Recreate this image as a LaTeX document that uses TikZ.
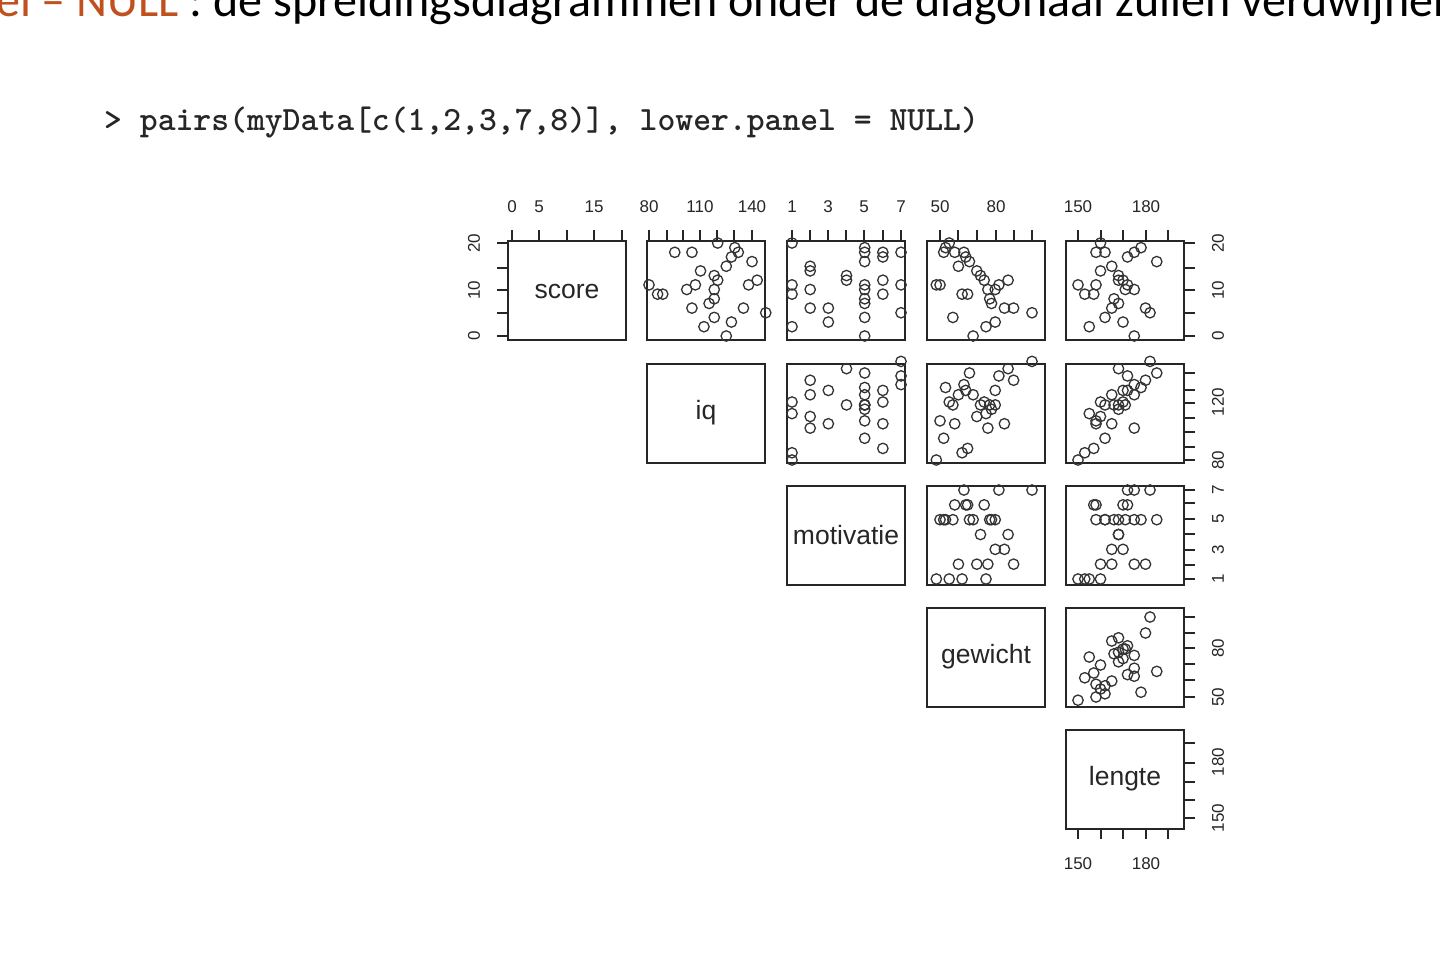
\documentclass[tikz,border=0pt]{standalone}
\usepackage{fontspec}
\setmainfont{Carlito}
\newfontfamily\plotfont{Liberation Sans}
\begin{document}
\begin{tikzpicture}[x=1pt,y=-1pt,
  panel/.style={draw=black!85,line width=1.8pt},
  pt/.style={draw=black!80,line width=1.3pt},
  tk/.style={draw=black!85,line width=1.4pt},
  axlab/.style={font=\plotfont\fontsize{17}{17}\selectfont,text=black!85,inner sep=0pt},
  diag/.style={font=\plotfont\fontsize{26.5}{26.5}\selectfont,text=black!85}]
\useasboundingbox (0,0) rectangle (1440,956);
\node[anchor=base west,inner sep=0pt,font=\fontsize{48}{48}\selectfont] (hdr) at (-4,16) {\textcolor[HTML]{C0501E}{el -- NULL} : de spreidingsdiagrammen onder de diagonaal zullen verdwijnen};
\node[anchor=base west,inner sep=0pt,font=\ttfamily\bfseries\fontsize{34}{34}\selectfont,text=black!85] (cmd) at (104,130) {> pairs(myData[c(1,2,3,7,8)], lower.panel = NULL)};
% panels
\foreach \i/\y in {1/241,2/364,3/486,4/608,5/730}{
  \foreach \j/\x in {1/508,2/647,3/787,4/927,5/1066}{
    \ifnum\j<\i\else
      \draw[panel] (\x,\y) rectangle ++(118,99);
    \fi
  }
}
\node[diag] (d1) at (567,291) {score};
\node[diag] (d2) at (706,413) {iq};
\node[diag] (d3) at (846,535) {motivatie};
\node[diag] (d4) at (986,657) {gewicht};
\node[diag] (d5) at (1125,779) {lengte};
% top ticks
\foreach \x in {512,539,567,594,622,649,667,683,700,717,734,752,792,810,828,846,864,883,901,940,958,977,996,1014,1032,1078,1101,1123,1146,1168}
  \draw[tk] (\x,241) -- (\x,230);
\foreach \x/\t in {512/0,539/5,594/15,649/80,700/110,752/140,792/1,828/3,864/5,901/7,940/50,996/80,1078/150,1146/180}
  \node[axlab] at (\x,207) {\t};
% bottom ticks col5
\foreach \x in {1078,1101,1123,1146,1168}
  \draw[tk] (\x,828) -- (\x,839);
\foreach \x/\t in {1078/150,1146/180}
  \node[axlab] at (\x,864) {\t};
% left ticks row1
\foreach \y in {243,268,290,313,336} \draw[tk] (508,\y) -- (497,\y);
\foreach \y/\t in {243/20,290/10,336/0} \node[axlab,rotate=90] at (474,\y) {\t};
% right ticks
\foreach \y in {243,268,290,313,336,373,390,403,418,432,447,460,490,503,519,534,550,565,579,617,633,648,664,680,697,743,763,782,800,818}
  \draw[tk] (1184,\y) -- (1195,\y);
\foreach \y/\t in {243/20,290/10,336/0,402/120,460/80,490/7,519/5,550/3,579/1,648/80,697/50,762/180,818/150}
  \node[axlab,rotate=90] at (1218,\y) {\t};
% data
\foreach \s/\q/\m/\g/\l in {20/120/1/55/160,18/95/5/52/162,18/105/6/58/158,18/132/7/63/175,17/128/6/64/172,16/140/5/66/185,15/125/2/60/165,14/110/2/70/160,13/118/4/72/168,12/120/6/74/170,11/80/1/48/150,11/107/5/50/158,11/138/7/82/172,10/102/2/76/175,10/118/5/80/171,9/85/1/62/153,9/88/6/65/157,8/118/5/77/166,7/115/5/78/168,6/105/3/85/165,6/135/2/90/180,5/148/7/100/182,4/118/5/57/162,3/128/3/80/170,2/112/1/75/155,0/125/5/68/175,19/130/5/53/178,12/143/4/87/168}{
  \pgfmathsetmacro\yS{336-\s*4.65}
  \pgfmathsetmacro\xQ{649+(\q-80)*1.717}\pgfmathsetmacro\yQ{460-(\q-80)*1.45}
  \pgfmathsetmacro\xM{792+(\m-1)*18.17}\pgfmathsetmacro\yM{579-(\m-1)*14.83}
  \pgfmathsetmacro\xG{940+(\g-50)*1.84}\pgfmathsetmacro\yG{697-(\g-50)*1.6}
  \pgfmathsetmacro\xL{1078+(\l-150)*2.25}
  \draw[pt] (\xQ,\yS) circle (5.2);
  \draw[pt] (\xM,\yS) circle (5.2);
  \draw[pt] (\xG,\yS) circle (5.2);
  \draw[pt] (\xL,\yS) circle (5.2);
  \draw[pt] (\xM,\yQ) circle (5.2);
  \draw[pt] (\xG,\yQ) circle (5.2);
  \draw[pt] (\xL,\yQ) circle (5.2);
  \draw[pt] (\xG,\yM) circle (5.2);
  \draw[pt] (\xL,\yM) circle (5.2);
  \draw[pt] (\xL,\yG) circle (5.2);
}
\end{tikzpicture}
\end{document}
